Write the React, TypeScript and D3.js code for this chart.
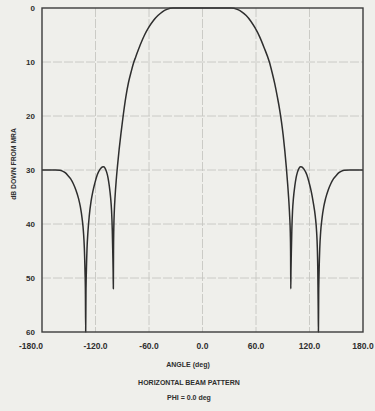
import React from 'react';
import * as d3 from 'd3';

// Horizontal beam pattern, PHI = 0.0 deg: angle (deg) vs dB down from MRA
const angles = [
  -180, -165, -160, -157, -154, -151, -148, -145, -142, -139, -137, -135, -133.5, -132.5,
  -131.8, -131.3, -131,
  -130.7, -130.2, -129.5, -128.5, -127, -125, -123, -120.5, -118, -115, -112.5, -111,
  -109.5, -107.5, -106, -104.5, -103, -102, -101.2, -100.6, -100.2, -100,
  -99.8, -99.5, -98.9, -98, -96.8, -95.3, -93.5, -91.5, -89, -86, -83, -80, -77, -75, -70, -65,
  -60, -55, -50, -45, -40, -33,
  0,
  32, 39, 44, 49, 54, 59, 64, 69, 75, 78, 81, 84, 86.5, 88.5, 90.5, 92.3, 94, 95.5, 96.8,
  97.8, 98.5, 98.8, 99,
  99.2, 99.6, 100.2, 101, 102, 103.5, 105, 106.5, 108.5, 110, 111.5, 114, 117, 119.5,
  122, 124, 126.5, 128, 128.8, 129.3, 129.6, 129.8, 130,
  130.3, 130.8, 131.5, 132.5, 134, 136, 138, 141, 144, 147, 150, 153, 156, 159, 165, 180,
];
const dbDown = [
  30, 30, 30.05, 30.2, 30.5, 31, 31.6, 32.5, 33.7, 35.3, 36.8, 39, 41.5, 44.5,
  48.5, 53, 60,
  53, 48.5, 44.5, 41.5, 38.5, 35.8, 34, 32.3, 30.9, 29.9, 29.45, 29.4,
  29.6, 30.4, 31.4, 33, 35.2, 37.5, 41, 45.5, 49, 52,
  45, 41, 37.6, 34.8, 32, 29.2, 26.2, 23.3, 20, 16.5, 13.8, 11.8, 10, 9.1, 6.9, 5.0,
  3.5, 2.3, 1.4, 0.7, 0.25, 0,
  0,
  0, 0.25, 0.7, 1.4, 2.4, 3.7, 5.3, 7.3, 10, 11.9, 14, 16.5, 18.8, 21, 23.6, 26.4, 29.5, 32.6, 35.7,
  38.7, 41.8, 45, 52,
  49, 45.5, 41, 37.5, 35.2, 33, 31.4, 30.4, 29.6, 29.4, 29.45, 29.9, 30.9, 32.3,
  34, 35.8, 38.6, 41.5, 44.5, 48.5, 53, 56, 60,
  53, 48.5, 44.5, 41.5, 39, 36.8, 35.3, 33.7, 32.5, 31.6, 31, 30.5, 30.2, 30.05, 30, 30,
];

const xTicks = [-180, -120, -60, 0, 60, 120, 180];
const yTicks = [0, 10, 20, 30, 40, 50, 60];

const W = 375;
const H = 411;
const M = { left: 42, right: 363, top: 8, bottom: 332 };

export default function App() {
  const x = d3.scaleLinear().domain([-180, 180]).range([M.left, M.right]);
  const y = d3.scaleLinear().domain([0, 60]).range([M.top, M.bottom]);

  const pts: [number, number][] = angles.map((a, i) => [a, dbDown[i]]);
  const line = d3
    .line<[number, number]>()
    .x((d) => x(d[0]))
    .y((d) => y(d[1]))
    .curve(d3.curveMonotoneX);

  const ink = '#2e2e2e';
  const font = '"Liberation Sans", Arial, sans-serif';

  return (
    <svg
      width={W}
      height={H}
      viewBox={`0 0 ${W} ${H}`}
      style={{ position: 'absolute', left: 0, top: 0, display: 'block' }}
    >
      <rect x={0} y={0} width={W} height={H} fill="#efefeb" />

      {/* grid */}
      <g stroke="#c6c6c2" strokeWidth={0.9} strokeDasharray="9 2">
        {xTicks.slice(1, -1).map((t) => (
          <line key={`gx${t}`} x1={x(t)} x2={x(t)} y1={y(0)} y2={y(60)} />
        ))}
        {yTicks.slice(1, -1).map((t) => (
          <line key={`gy${t}`} x1={x(-180)} x2={x(180)} y1={y(t)} y2={y(t)} />
        ))}
      </g>

      {/* pattern */}
      <path
        d={line(pts) ?? ''}
        fill="none"
        stroke={ink}
        strokeWidth={1.5}
        strokeLinejoin="round"
      />

      {/* frame */}
      <rect
        x={M.left}
        y={M.top}
        width={M.right - M.left}
        height={M.bottom - M.top}
        fill="none"
        stroke="#3c3c3c"
        strokeWidth={1.4}
      />

      {/* y tick labels */}
      <g fontFamily={font} fontWeight="bold" fontSize={8} fill={ink} textAnchor="end">
        {yTicks.map((t) => (
          <text key={`yl${t}`} x={M.left - 7} y={y(t)} dy="0.35em">
            {String(t)}
          </text>
        ))}
      </g>

      {/* x tick labels */}
      <g fontFamily={font} fontWeight="bold" fontSize={8.5} fill={ink} textAnchor="middle">
        {xTicks.map((t) => (
          <text key={`xl${t}`} x={x(t) + (t === -180 ? -11 : 0)} y={349}>
            {t.toFixed(1)}
          </text>
        ))}
      </g>

      {/* axis titles */}
      <text
        x={0}
        y={0}
        transform={`translate(14, 164) rotate(-90)`}
        fontFamily={font}
        fontWeight="bold"
        fontSize={6.8}
        fill={ink}
        textAnchor="middle"
        dy="0.35em"
      >
        dB DOWN FROM MRA
      </text>
      <g fontFamily={font} fontWeight="bold" fill={ink} textAnchor="middle">
        <text x={188} y={366.5} fontSize={7}>ANGLE (deg)</text>
        <text x={189} y={384.5} fontSize={7}>HORIZONTAL BEAM PATTERN</text>
        <text x={189} y={399.5} fontSize={7}>PHI  =  0.0 deg</text>
      </g>
    </svg>
  );
}
